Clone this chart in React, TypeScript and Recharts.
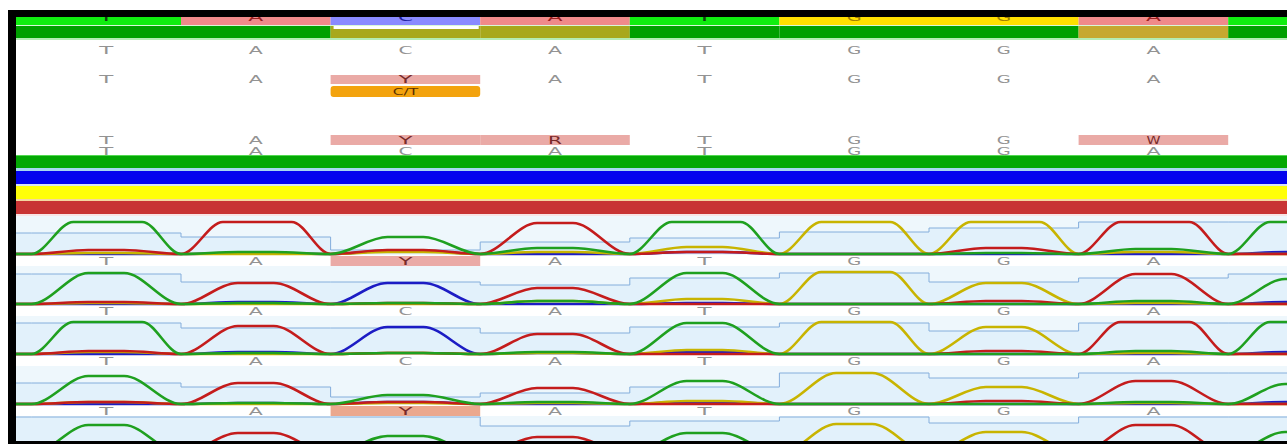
import React from 'react';
import { ComposedChart, XAxis, YAxis, Line, Area, Scatter, ReferenceArea } from 'recharts';

// ---------- layout ----------
const WIDTH = 1287;
const HEIGHT = 444;
const COL_START = 31.4;
const COL_WIDTH = 149.6;
const toCol = (px: number) => (px - COL_START) / COL_WIDTH;
const X_MIN = toCol(0);
const X_MAX = toCol(WIDTH);
const X_LEFT = toCol(16);
const CAP = 32;
const BASELINES = [254, 304, 354, 404, 454];
const PANEL_TOPS = [216, 266, 316, 366, 416];

// ---------- data ----------
const bases = ['T', 'A', 'C', 'A', 'T', 'G', 'G', 'A', 'T'];
const agreement = [2, 2, 1, 1, 2, 2, 2, 0, 2];
const consensusRow = ['T', 'A', 'C', 'A', 'T', 'G', 'G', 'A'];
const callRow = ['T', 'A', 'Y', 'A', 'T', 'G', 'G', 'A'];
const heteroCall = 'C/T';
const heteroCol = 2;
const ambiguityRow = ['T', 'A', 'Y', 'R', 'T', 'G', 'G', 'W'];
const referenceRow = ['T', 'A', 'C', 'A', 'T', 'G', 'G', 'A'];
const traceLabels1 = ['T', 'A', 'Y', 'A', 'T', 'G', 'G', 'A'];
const traceLabels2 = ['T', 'A', 'C', 'A', 'T', 'G', 'G', 'A'];
const traceLabels3 = ['T', 'A', 'C', 'A', 'T', 'G', 'G', 'A'];
const traceLabels4 = ['T', 'A', 'Y', 'A', 'T', 'G', 'G', 'A'];

// peak heights per column (px above baseline); 32 = saturated
const p1A = [4, 32, 4, 31, 2, 0, 6, 32, 0];
const p1C = [0, 1, 3, 0, 2, 0, 0, 0, 2];
const p1G = [1, 0, 2, 2, 7, 32, 32, 2, 0];
const p1T = [32, 2, 17, 6, 32, 0, 1, 5, 32];
const p1Q = [21, 17, 4, 12, 16, 22, 26, 32, 32];

const p2A = [2, 21, 1, 16, 0, 0, 3, 30, 0];
const p2C = [0, 2, 21, 0, 1, 0, 0, 0, 2];
const p2G = [1, 0, 0, 3, 5, 32, 21, 1, 0];
const p2T = [31, 1, 1, 3, 31, 0, 0, 3, 25];
const p2Q = [30, 22, 22, 19, 26, 31, 22, 26, 30];

const p3A = [3, 28, 1, 20, 0, 0, 3, 32, 0];
const p3C = [0, 2, 27, 1, 2, 0, 0, 0, 2];
const p3G = [2, 0, 1, 1, 4, 32, 27, 1, 0];
const p3T = [32, 1, 1, 2, 31, 0, 0, 3, 32];
const p3Q = [31, 26, 26, 21, 27, 31, 23, 31, 31];

const p4A = [2, 21, 2, 16, 0, 0, 3, 23, 0];
const p4C = [0, 1, 2, 0, 2, 0, 0, 0, 2];
const p4G = [2, 0, 1, 1, 3, 31, 17, 1, 0];
const p4T = [28, 1, 9, 2, 23, 0, 0, 2, 20];
const p4Q = [21, 17, 7, 11, 17, 31, 26, 31, 31];

const p5A = [2, 21, 2, 17, 0, 0, 3, 29, 0];
const p5C = [0, 1, 2, 0, 1, 0, 0, 0, 1];
const p5G = [2, 0, 1, 1, 3, 30, 22, 1, 0];
const p5T = [29, 1, 18, 2, 21, 0, 0, 2, 22];
const p5Q = [37, 37, 37, 28, 33, 37, 31, 37, 37];

const panels = [
  { A: p1A, C: p1C, G: p1G, T: p1T, Q: p1Q },
  { A: p2A, C: p2C, G: p2G, T: p2T, Q: p2Q },
  { A: p3A, C: p3C, G: p3G, T: p3T, Q: p3Q },
  { A: p4A, C: p4C, G: p4G, T: p4T, Q: p4Q },
  { A: p5A, C: p5C, G: p5G, T: p5T, Q: p5Q },
];
const labelRows = [traceLabels1, traceLabels2, traceLabels3, traceLabels4];

// ---------- styles ----------
const TRACE_COLORS: Record<string, string> = { A: '#c41c1c', C: '#1c1cc4', G: '#c8b400', T: '#1fa01f' };
const TOP_COLORS: Record<string, string> = { A: '#f08a8a', C: '#8a8aff', G: '#ffe000', T: '#10ee10' };
const TOP_TEXT: Record<string, string> = { A: '#9a2020', C: '#2020a0', G: '#a08000', T: '#104010' };
const AGREE_COLORS = ['#c6a830', '#a8a81c', '#00a000'];
const isAmbig = (b: string) => !['A', 'C', 'G', 'T'].includes(b);

const traceData = (h: number[]) => {
  const pts: { x: number; v: number }[] = [{ x: X_LEFT, v: 0 }];
  h.forEach((val, i) => {
    pts.push({ x: i, v: 0 });
    if (val >= CAP) {
      pts.push({ x: i + 0.28, v: CAP });
      pts.push({ x: i + 0.74, v: CAP });
    } else {
      pts.push({ x: i + 0.38, v: val });
      pts.push({ x: i + 0.62, v: val });
    }
  });
  pts.push({ x: h.length, v: 0 });
  return pts;
};

const qualData = (q: number[]) => {
  const pts = [{ x: X_LEFT, v: q[0] }];
  q.forEach((val, i) => pts.push({ x: i, v: val }));
  pts.push({ x: X_MAX, v: q[q.length - 1] });
  return pts;
};

const rowData = (codes: string[], y: number) => codes.map((t, i) => ({ x: i + 0.5, y, t }));

const makeText = (size: number, tl: number, color: (t: string) => string, weight = 'normal') => (props: any) => {
  const { cx, cy, payload } = props;
  if (cx == null || cy == null) return <g />;
  return (
    <text
      x={cx}
      y={cy}
      textAnchor="middle"
      dominantBaseline="central"
      fontSize={size}
      fontWeight={weight}
      fill={color(payload.t)}
      fontFamily="DejaVu Sans, Verdana, sans-serif"
      textLength={tl * payload.t.length}
      lengthAdjust="spacingAndGlyphs"
    >
      {payload.t}
    </text>
  );
};

const grayText = makeText(10, 14, (t) => (isAmbig(t) ? '#7a2a2a' : '#939393'));

const area = (key: string, x1: number, x2: number, y1: number, y2: number, fill: string, z: number) => (
  <ReferenceArea
    key={key}
    yAxisId="px"
    x1={x1}
    x2={x2}
    y1={y1}
    y2={y2}
    fill={fill}
    fillOpacity={1}
    stroke="none"
    ifOverflow="visible"
    zIndex={z}
  />
);

export default function App() {
  const els: React.ReactNode[] = [];

  // panel backgrounds and label rows
  PANEL_TOPS.forEach((top, i) => {
    els.push(area(`pbg${i}`, X_LEFT, X_MAX, top, Math.min(BASELINES[i] + 1, 441), '#eef7fc', 10));
  });
  labelRows.forEach((codes, i) => {
    const b = BASELINES[i];
    codes.forEach((c, j) => {
      if (isAmbig(c)) els.push(area(`lp${i}-${j}`, j, j + 1, b + 2, b + 12, i === 3 ? '#eba88e' : '#eaaaa6', 12));
    });
  });

  // top colored rows
  bases.forEach((b, i) => {
    const x1 = i === 0 ? X_LEFT : i;
    const x2 = i === bases.length - 1 ? X_MAX : i + 1;
    els.push(area(`r1-${i}`, x1, x2, 17, 25, TOP_COLORS[b], 12));
    els.push(area(`r2-${i}`, x1, x2, 26, 38, AGREE_COLORS[agreement[i]], 12));
  });
  els.push(area('r1sep', X_LEFT, X_MAX, 25, 26, '#d8f8d8', 12));
  els.push(area('r2white', heteroCol + 0.02, heteroCol + 0.99, 26, 29, '#ffffff', 13));
  els.push(area('r2sep', X_LEFT, X_MAX, 38, 40, '#b4ecb4', 12));

  // ambiguity boxes
  callRow.forEach((c, j) => {
    if (isAmbig(c)) els.push(area(`cp${j}`, j, j + 1, 75, 84, '#eaaaa6', 12));
  });
  els.push(
    <ReferenceArea
      key="hetero"
      yAxisId="px"
      x1={heteroCol}
      x2={heteroCol + 1}
      y1={86}
      y2={97}
      ifOverflow="visible"
      zIndex={12}
      shape={(p: any) => <rect x={p.x} y={p.y} width={p.width} height={p.height} rx={3} ry={3} fill="#f3a30e" />}
    />
  );
  ambiguityRow.forEach((c, j) => {
    if (isAmbig(c)) els.push(area(`ap${j}`, j, j + 1, 135, 145, '#eaaaa6', 12));
  });

  // colour bands
  els.push(area('bandG0', X_LEFT, X_MAX, 155, 156, '#50d850', 12));
  els.push(area('bandG', X_LEFT, X_MAX, 156, 168, '#04a804', 12));
  els.push(area('sep1', X_LEFT, X_MAX, 168, 171, '#a8d8f0', 12));
  els.push(area('bandB', X_LEFT, X_MAX, 171, 184, '#0404ee', 12));
  els.push(area('sep2', X_LEFT, X_MAX, 184, 186, '#d8e4f4', 12));
  els.push(area('bandY', X_LEFT, X_MAX, 186, 199, '#ffff08', 12));
  els.push(area('sep3', X_LEFT, X_MAX, 199, 201, '#f4d8a0', 12));
  els.push(area('bandR', X_LEFT, X_MAX, 201, 214, '#c83434', 12));
  els.push(area('sep4', X_LEFT, X_MAX, 214, 216, '#f8e4e4', 12));

  // quality step areas
  panels.forEach((p, i) => {
    els.push(
      <Area
        key={`q${i}`}
        yAxisId={`p${i}`}
        data={qualData(p.Q)}
        dataKey="v"
        type="stepAfter"
        baseValue={0}
        stroke="#84aedc"
        strokeWidth={1}
        fill="#e2f1fb"
        fillOpacity={1}
        dot={false}
        activeDot={false}
        isAnimationActive={false}
        zIndex={20}
      />
    );
  });

  // traces
  panels.forEach((p, i) => {
    (['C', 'G', 'A', 'T'] as const).forEach((ch) => {
      els.push(
        <Line
          key={`t${i}${ch}`}
          yAxisId={`p${i}`}
          data={traceData(p[ch])}
          dataKey="v"
          type="monotone"
          stroke={TRACE_COLORS[ch]}
          strokeWidth={2.6}
          dot={false}
          activeDot={false}
          isAnimationActive={false}
          zIndex={30}
        />
      );
    });
  });

  // texts
  els.push(
    <Scatter key="s1" yAxisId="px" data={rowData(bases.slice(0, 8), 17)} shape={makeText(11, 15, (t) => TOP_TEXT[t])} isAnimationActive={false} zIndex={40} />
  );
  els.push(<Scatter key="s2" yAxisId="px" data={rowData(consensusRow, 50)} shape={grayText} isAnimationActive={false} zIndex={40} />);
  els.push(<Scatter key="s3" yAxisId="px" data={rowData(callRow, 79.5)} shape={grayText} isAnimationActive={false} zIndex={40} />);
  els.push(
    <Scatter key="s4" yAxisId="px" data={[{ x: heteroCol + 0.5, y: 91.5, t: heteroCall }]} shape={makeText(9, 8.5, () => '#5a3000')} isAnimationActive={false} zIndex={40} />
  );
  els.push(<Scatter key="s5" yAxisId="px" data={rowData(ambiguityRow, 140)} shape={grayText} isAnimationActive={false} zIndex={40} />);
  els.push(<Scatter key="s6" yAxisId="px" data={rowData(referenceRow, 151)} shape={grayText} isAnimationActive={false} zIndex={40} />);
  labelRows.forEach((codes, i) => {
    els.push(
      <Scatter key={`sl${i}`} yAxisId="px" data={rowData(codes, BASELINES[i] + 7.5)} shape={grayText} isAnimationActive={false} zIndex={40} />
    );
  });

  // black frame
  els.push(area('bTop', toCol(8), X_MAX, 10, 17, '#000000', 90));
  els.push(area('bLeft', toCol(8), X_LEFT, 10, HEIGHT, '#000000', 90));
  els.push(area('bBot', toCol(8), X_MAX, 441, HEIGHT, '#000000', 90));

  return (
    <div style={{ position: 'absolute', left: 0, top: 0, width: WIDTH, height: HEIGHT, background: '#ffffff' }}>
      <ComposedChart width={WIDTH} height={HEIGHT} margin={{ top: 0, right: 0, bottom: 0, left: 0 }}>
        <XAxis type="number" dataKey="x" domain={[X_MIN, X_MAX]} allowDataOverflow hide />
        <YAxis yAxisId="px" type="number" dataKey="y" domain={[0, HEIGHT]} reversed allowDataOverflow hide />
        {BASELINES.map((b, i) => (
          <YAxis key={`ya${i}`} yAxisId={`p${i}`} type="number" domain={[b - HEIGHT, b]} allowDataOverflow hide />
        ))}
        {els}
      </ComposedChart>
    </div>
  );
}
